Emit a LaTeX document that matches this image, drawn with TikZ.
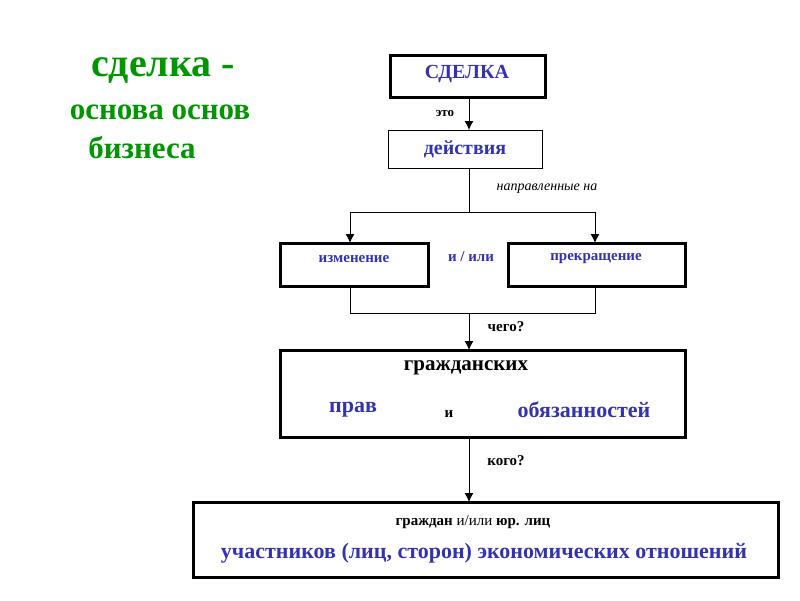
\documentclass[tikz,border=0pt]{standalone}
\usepackage{fontspec}
\setmainfont{Liberation Serif}
\usetikzlibrary{arrows.meta}
\begin{document}
\begin{tikzpicture}[x=1pt,y=-1pt,
  thickbox/.style={draw,line width=3pt},
  thinbox/.style={draw,line width=1pt},
  conn/.style={line width=1pt},
  arr/.style={conn,-{Latex[length=9pt,width=9pt]}},
  blu/.style={text=bluec,font=\bfseries},
  lbl/.style={font=\bfseries\fontsize{13}{15}\selectfont}]
\definecolor{bluec}{RGB}{51,51,175}
\definecolor{greenc}{RGB}{0,150,0}
\useasboundingbox (0,0) rectangle (800,600);
% boxes
\draw[thickbox] (390,55) rectangle (545,97);
\node[blu,font=\bfseries\fontsize{20}{22}\selectfont] (sd) at (467,74) {СДЕЛКА};
\draw[thinbox] (388,130) rectangle (542,168);
\node[blu,font=\bfseries\fontsize{20}{22}\selectfont] (de) at (465,149) {действия};
\draw[thickbox] (280,243) rectangle (428,286);
\node[blu,font=\bfseries\fontsize{15}{17}\selectfont] (iz) at (354,259) {изменение};
\draw[thickbox] (508,243) rectangle (685,286);
\node[blu,font=\bfseries\fontsize{15}{17}\selectfont] (pr) at (596,259) {прекращение};
\draw[thickbox] (280,350) rectangle (685,437);
\node[font=\bfseries\fontsize{21}{23}\selectfont] (gr) at (466,368) {гражданских};
\node[blu,font=\bfseries\fontsize{22}{24}\selectfont] (pv) at (353,410) {прав};
\node[font=\bfseries\fontsize{15}{17}\selectfont] (i) at (449,414) {и};
\node[blu,font=\bfseries\fontsize{22}{24}\selectfont] (ob) at (584,410) {обязанностей};
\draw[thickbox] (193,502) rectangle (778,577);
\node[font=\fontsize{15}{17}\selectfont] (gl) at (473,522) {\textbf{граждан} и/или \textbf{юр. лиц}};
\node[blu,font=\bfseries\fontsize{22}{24}\selectfont] (uc) at (484,553) {участников (лиц, сторон) экономических отношений};
% connectors
\coordinate (a1) at (469,97); \coordinate (a2) at (469,130);
\draw[arr] (a1) -- (a2);
\coordinate (b1) at (469,168); \coordinate (b2) at (469,212);
\coordinate (bl) at (350,212); \coordinate (br) at (595,212);
\coordinate (bl2) at (350,243); \coordinate (br2) at (595,243);
\draw[conn] (b1) -- (b2);
\draw[arr] (b2) -- (bl) -- (bl2);
\draw[arr] (b2) -- (br) -- (br2);
\coordinate (c1) at (350,286); \coordinate (c2) at (595,286);
\coordinate (c3) at (469,313); \coordinate (c4) at (469,350);
\draw[conn] (c1) -- (350,313) -- (595,313) -- (c2);
\draw[arr] (c3) -- (c4);
\coordinate (d1) at (469,437); \coordinate (d2) at (469,502);
\draw[arr] (d1) -- (d2);
% labels
\node[lbl] (eto) at (445,113) {это};
\node[font=\itshape\fontsize{14}{16}\selectfont] (np) at (547,189) {направленные на};
\node[blu,font=\bfseries\fontsize{15}{17}\selectfont] (ili) at (471,257) {и / или};
\node[font=\bfseries\fontsize{15}{17}\selectfont] (ch) at (506,327) {чего?};
\node[font=\bfseries\fontsize{15}{17}\selectfont] (ko) at (506,461) {кого?};
% title
\node[text=greenc,font=\bfseries\fontsize{40}{42}\selectfont] (t1) at (163,71) {сделка -};
\node[text=greenc,font=\bfseries\fontsize{31}{33}\selectfont] (t2) at (160,112) {основа основ};
\node[text=greenc,font=\bfseries\fontsize{31}{33}\selectfont] (t3) at (142,148) {бизнеса};
\end{tikzpicture}
\end{document}
